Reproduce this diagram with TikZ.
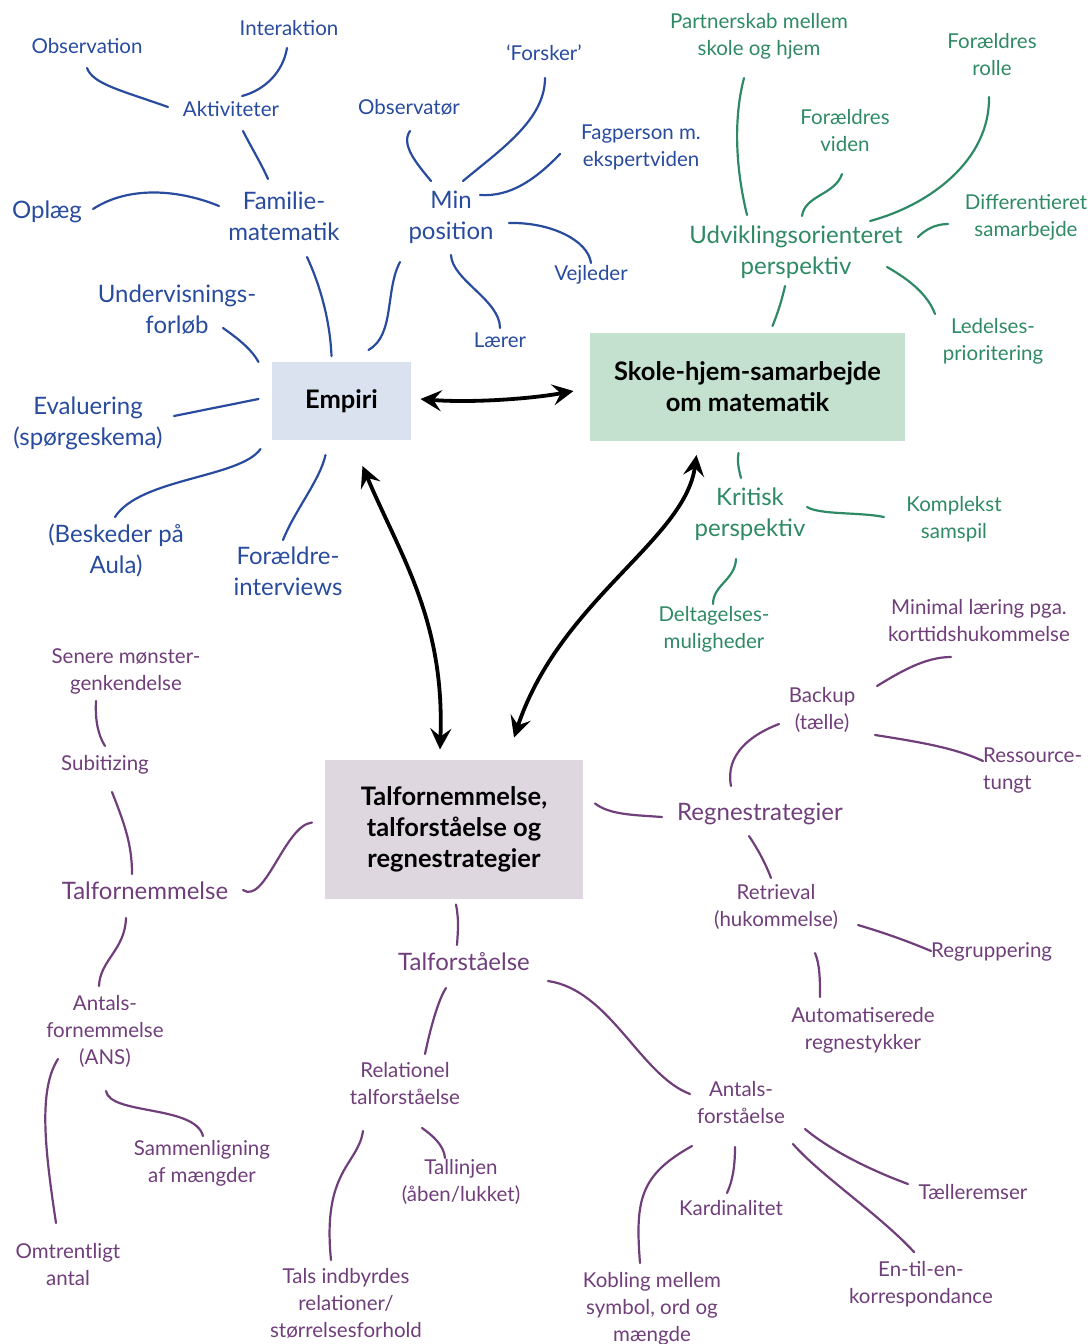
\documentclass[tikz,border=0pt]{standalone}
\usepackage{fontspec}
\setmainfont{Lato}
\usetikzlibrary{calc,arrows.meta}
\definecolor{cblue}{RGB}{40,75,158}
\definecolor{cgreen}{RGB}{46,138,100}
\definecolor{cpurp}{RGB}{112,62,122}
\definecolor{fblue}{RGB}{218,226,240}
\definecolor{fgreen}{RGB}{196,224,207}
\definecolor{fpurp}{RGB}{222,215,224}
\begin{document}
\begin{tikzpicture}[x=1pt,y=-1pt,
  sm/.style={font=\fontsize{20.5}{27}\selectfont, align=center, inner sep=0pt, yshift=-1pt},
  lg/.style={font=\fontsize{24}{31}\selectfont, align=center, inner sep=0pt, yshift=-2pt},
  bxs/.style={font=\bfseries\fontsize{25.5}{31}\selectfont, align=center, inner sep=0pt, text=black},
  tb/.style={text=cblue}, tg/.style={text=cgreen}, tp/.style={text=cpurp},
  cb/.style={draw=cblue, line width=2.2pt, line cap=round},
  cg/.style={draw=cgreen, line width=2.2pt, line cap=round},
  cp/.style={draw=cpurp, line width=2.2pt, line cap=round},
  arr/.style={line width=3.8pt, black, {Stealth[length=21pt,width=21pt,inset=8pt]}-{Stealth[length=21pt,width=21pt,inset=8pt]}}
]
\useasboundingbox (0,0) rectangle (1087,1344);
% ---------- boxes
\node[bxs, fill=fblue, minimum width=139, minimum height=78] (emp) at (341.5,401) {Empiri};
\node[bxs, fill=fgreen, minimum width=315, minimum height=108] (skole) at (747.5,387) {Skole-hjem-samarbejde\\om matematik};
\node[bxs, fill=fpurp, minimum width=258, minimum height=139] (tal) at (454,829.5) {Talfornemmelse,\\talforståelse og\\regnestrategier};
% ---------- blue nodes
\node[sm,tb] (obs) at (87,45) {Observation};
\node[sm,tb] (inter) at (289,27) {Interaktion};
\node[sm,tb] (akt) at (231,108) {Aktiviteter};
\node[lg,tb] (fam) at (284,214) {Familie-\\matematik};
\node[lg,tb] (opl) at (47,210) {Oplæg};
\node[sm,tb] (fors) at (544,52) {‘Forsker’};
\node[sm,tb] (obsv) at (409,106) {Observatør};
\node[sm,tb] (fagp) at (641,146) {Fagperson m.\\ekspertviden};
\node[lg,tb] (minp) at (451,215) {Min\\position};
\node[sm,tb] (vejl) at (591,274) {Vejleder};
\node[sm,tb] (laer) at (500,339) {Lærer};
\node[lg,tb] (underv) at (177,308) {Undervisnings-\\forløb};
\node[lg,tb] (eval) at (88,421) {Evaluering\\(spørgeskema)};
\node[lg,tb] (besk) at (116,548) {(Beskeder på\\Aula)};
\node[lg,tb] (forl) at (288,569) {Forældre-\\interviews};
% ---------- green nodes
\node[sm,tg] (part) at (759,35) {Partnerskab mellem\\skole og hjem};
\node[sm,tg] (rolle) at (992,54) {Forældres\\rolle};
\node[sm,tg] (viden) at (845,130) {Forældres\\viden};
\node[sm,tg] (diff) at (1026,216) {Differentieret\\samarbejde};
\node[lg,tg] (udv) at (796,250) {Udviklingsorienteret\\perspektiv};
\node[sm,tg] (led) at (993,340) {Ledelses-\\prioritering};
\node[lg,tg] (krit) at (750,512) {Kritisk\\perspektiv};
\node[sm,tg] (kompl) at (954,518) {Komplekst\\samspil};
\node[sm,tg] (delt) at (714,628) {Deltagelses-\\muligheder};
% ---------- purple nodes
\node[sm,tp] (sen) at (126,670) {Senere mønster-\\genkendelse};
\node[sm,tp] (sub) at (105,764) {Subitizing};
\node[lg,tp] (tfn) at (145,889) {Talfornemmelse};
\node[sm,tp] (ans) at (105,1030) {Antals-\\fornemmelse\\(ANS)};
\node[sm,tp] (samm) at (202,1162) {Sammenligning\\af mængder};
\node[sm,tp] (omtr) at (68,1264) {Omtrentligt\\antal};
\node[lg,tp] (tfs) at (464,960) {Talforståelse};
\node[sm,tp] (rel) at (405,1083) {Relationel\\talforståelse};
\node[sm,tp] (tlj) at (461,1181) {Tallinjen\\(åben/lukket)};
\node[sm,tp] (tals) at (346,1302) {Tals indbyrdes\\relationer/\\størrelsesforhold};
\node[sm,tp] (antf) at (741,1102) {Antals-\\forståelse};
\node[sm,tp] (kard) at (731,1207) {Kardinalitet};
\node[sm,tp] (kobl) at (652,1308) {Kobling mellem\\symbol, ord og\\mængde};
\node[sm,tp] (tael) at (973,1191) {Tælleremser};
\node[sm,tp] (en) at (921,1283) {En-til-en-\\korrespondance};
\node[lg,tp] (regn) at (760,812) {Regnestrategier};
\node[sm,tp] (back) at (822,709) {Backup\\(tælle)};
\node[sm,tp] (mini) at (979,620) {Minimal læring pga.\\korttidshukommelse};
\node[sm,tp,align=left,anchor=west] (ress) at (983,770) {Ressource-\\tungt};
\node[sm,tp] (retr) at (776,906) {Retrieval\\(hukommelse)};
\node[sm,tp,anchor=west] (regr) at (931,951) {Regruppering};
\node[sm,tp] (auto) at (863,1029) {Automatiserede\\regnestykker};
% ---------- blue connectors
\draw[cb] ($(obs)+(0,22)$) .. controls (93,84) and (120,90) .. ($(akt)+(-63,-2)$);
\draw[cb] ($(inter)+(-2,20)$) .. controls (283,72) and (265,90) .. ($(akt)+(11,-13)$);
\draw[cb] ($(akt)+(12,22)$) .. controls (250,145) and (262,165) .. ($(fam)+(-16,-37)$);
\draw[cb] ($(opl)+(46,-3)$) .. controls (130,185) and (180,190) .. ($(fam)+(-65,-10)$);
\draw[cb] ($(fam)+(23,41)$) .. controls (320,285) and (330,320) .. ($(emp)+(-10,-45)$);
\draw[cb] ($(minp)+(-51,45)$) .. controls (385,290) and (395,335) .. ($(emp)+(27,-51)$);
\draw[cb] ($(obsv)+(1,24)$) .. controls (400,145) and (418,165) .. ($(minp)+(-20,-36)$);
\draw[cb] ($(fors)+(1,25)$) .. controls (545,120) and (500,150) .. ($(minp)+(12,-36)$);
\draw[cb] ($(fagp)+(-81,7)$) .. controls (535,180) and (510,197) .. ($(minp)+(29,-22)$);
\draw[cb] ($(minp)+(58,6)$) .. controls (550,222) and (588,240) .. ($(vejl)+(0,-12)$);
\draw[cb] ($(minp)+(0,38)$) .. controls (452,280) and (500,300) .. ($(laer)+(0,-12)$);
\draw[cb] ($(underv)+(46,18)$) .. controls (240,340) and (252,350) .. ($(emp)+(-83,-39)$);
\draw[cb] ($(eval)+(86,-7)$) -- ($(emp)+(-83,-2)$);
\draw[cb] ($(besk)+(-1,-33)$) .. controls (140,478) and (240,478) .. ($(emp)+(-81,48)$);
\draw[cb] ($(forl)+(-5,-31)$) .. controls (295,510) and (320,480) .. ($(emp)+(-16,54)$);
% ---------- green connectors
\draw[cg] ($(part)+(-15,42)$) .. controls (733,120) and (736,170) .. ($(udv)+(-49,-37)$);
\draw[cg] ($(viden)+(-3,43)$) .. controls (835,195) and (805,195) .. ($(udv)+(6,-36)$);
\draw[cg] ($(rolle)+(-3,42)$) .. controls (990,160) and (930,205) .. ($(udv)+(74,-31)$);
\draw[cg] ($(diff)+(-78,7)$) .. controls (935,224) and (925,230) .. ($(udv)+(122,-15)$);
\draw[cg] ($(udv)+(91,15)$) .. controls (910,280) and (928,295) .. ($(led)+(-58,-27)$);
\draw[cg] ($(udv)+(-11,34)$) .. controls (782,300) and (777,315) .. ($(skole)+(25,-61)$);
\draw[cg] ($(skole)+(-9,66)$) .. controls (737,463) and (739,470) .. ($(krit)+(-9,-36)$);
\draw[cg] ($(krit)+(57,-7)$) .. controls (820,515) and (860,512) .. ($(kompl)+(-70,-2)$);
\draw[cg] ($(krit)+(-14,45)$) .. controls (735,580) and (713,585) .. ($(delt)+(-1,-25)$);
% ---------- purple connectors
\draw[cp] ($(sen)+(-30,30)$) .. controls (95,720) and (98,735) .. ($(sub)+(0,-19)$);
\draw[cp] ($(sub)+(7,27)$) .. controls (125,825) and (132,845) .. ($(tfn)+(-13,-17)$);
\draw[cp] ($(tfn)+(98,-1)$) .. controls (265,905) and (285,825) .. ($(tal)+(-142,-7)$);
\draw[cp] ($(tfn)+(-19,27)$) .. controls (125,950) and (100,960) .. ($(ans)+(-6,-45)$);
\draw[cp] ($(ans)+(-47,28)$) .. controls (38,1090) and (45,1150) .. ($(omtr)+(-12,-42)$);
\draw[cp] ($(ans)+(1,60)$) .. controls (110,1115) and (195,1105) .. ($(samm)+(1,-27)$);
\draw[cp] ($(tal)+(2,75)$) .. controls (459,920) and (458,930) .. ($(tfs)+(-7,-17)$);
\draw[cp] ($(tfs)+(-18,26)$) .. controls (438,1000) and (430,1030) .. ($(rel)+(20,-30)$);
\draw[cp] ($(tfs)+(84,19)$) .. controls (610,990) and (640,1075) .. ($(antf)+(-51,-9)$);
\draw[cp] ($(rel)+(17,44)$) .. controls (432,1135) and (444,1145) .. ($(tlj)+(-16,-24)$);
\draw[cp] ($(rel)+(-42,47)$) .. controls (358,1165) and (322,1170) .. ($(tals)+(-15,-43)$);
\draw[cp] ($(antf)+(-6,44)$) .. controls (735,1165) and (733,1180) .. ($(kard)+(-4,-15)$);
\draw[cp] ($(antf)+(-49,43)$) .. controls (640,1175) and (635,1200) .. ($(kobl)+(-12,-46)$);
\draw[cp] ($(antf)+(64,26)$) .. controls (830,1150) and (870,1170) .. ($(tael)+(-65,-8)$);
\draw[cp] ($(antf)+(52,41)$) .. controls (820,1175) and (880,1215) .. ($(en)+(-7,-32)$);
\draw[cp] ($(tal)+(141,-26)$) .. controls (610,815) and (635,815) .. ($(regn)+(-98,3)$);
\draw[cp] ($(regn)+(-29,-28)$) .. controls (725,755) and (750,735) .. ($(back)+(-43,14)$);
\draw[cp] ($(back)+(55,-24)$) .. controls (900,672) and (925,657) .. ($(mini)+(-28,36)$);
\draw[cp] ($(back)+(53,25)$) .. controls (920,742) and (955,748) .. ($(ress.west)+(0,-10)$);
\draw[cp] ($(regn)+(-11,22)$) .. controls (757,848) and (765,862) .. ($(retr)+(-5,-29)$);
\draw[cp] ($(retr)+(82,18)$) .. controls (885,933) and (910,942) .. ($(regr.west)+(0,-1)$);
\draw[cp] ($(retr)+(39,46)$) .. controls (820,965) and (820,980) .. ($(auto)+(-43,-33)$);
% ---------- black arrows
\draw[arr] ($(emp)+(79,-2)$) .. controls (470,403) and (530,399) .. ($(skole)+(-174,4)$);
\draw[arr] ($(emp)+(21,65)$) .. controls (400,555) and (445,620) .. ($(tal)+(-14,-80)$);
\draw[arr] ($(skole)+(-51,68)$) .. controls (685,540) and (560,600) .. ($(tal)+(60,-92)$);
\end{tikzpicture}
\end{document}
